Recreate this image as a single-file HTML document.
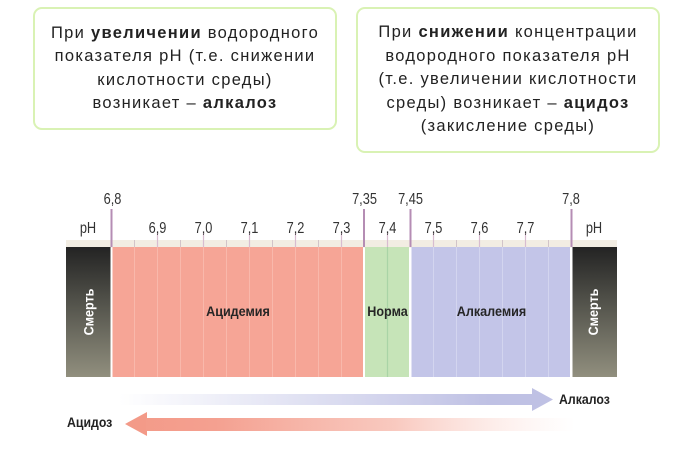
<!DOCTYPE html>
<html><head><meta charset="utf-8">
<style>
html,body{margin:0;padding:0;background:#fff;}
body{width:700px;height:449px;position:relative;overflow:hidden;font-family:"Liberation Sans",Arial,sans-serif;}
.box{position:absolute;border:2px solid #d9f2b4;border-radius:9px;box-sizing:border-box;display:flex;align-items:center;justify-content:center;text-align:center;color:#222;font-size:16.5px;letter-spacing:1.3px;line-height:23.5px;}
.box b{font-weight:bold;}
svg{position:absolute;left:0;top:0;}
</style></head><body>
<div class="box" style="left:33px;top:7px;width:304px;height:123px;"><div>При <b>увеличении</b> водородного<br>показателя pH (т.е. снижении<br>кислотности среды)<br>возникает – <b>алкалоз</b></div></div>
<div class="box" style="left:356px;top:7px;width:304px;height:146px;"><div>При <b>снижении</b> концентрации<br>водородного показателя pH<br>(т.е. увеличении кислотности<br>среды) возникает – <b>ацидоз</b><br>(закисление среды)</div></div>
<svg width="700" height="449" viewBox="0 0 700 449" xmlns="http://www.w3.org/2000/svg" font-family="Liberation Sans, Arial, sans-serif">
<defs>
<linearGradient id="death" x1="0" y1="0" x2="0" y2="1">
<stop offset="0" stop-color="#232323"/><stop offset="0.45" stop-color="#55554d"/><stop offset="1" stop-color="#918f7e"/>
</linearGradient>
<linearGradient id="blueA" x1="119" y1="0" x2="553" y2="0" gradientUnits="userSpaceOnUse">
<stop offset="0" stop-color="#c2c4e6" stop-opacity="0"/><stop offset="0.5" stop-color="#c2c4e6" stop-opacity="0.6"/><stop offset="0.85" stop-color="#bfc1e4" stop-opacity="1"/><stop offset="1" stop-color="#bfc1e4"/>
</linearGradient>
<linearGradient id="redA" x1="125" y1="0" x2="575" y2="0" gradientUnits="userSpaceOnUse">
<stop offset="0" stop-color="#f39a88"/><stop offset="0.2" stop-color="#f4a090"/><stop offset="0.6" stop-color="#f6b2a4" stop-opacity="0.7"/><stop offset="1" stop-color="#fbd7cf" stop-opacity="0"/>
</linearGradient>
</defs>
<rect x="66" y="240" width="551" height="7.5" fill="#f2ede3"/>
<rect x="66" y="247" width="44.5" height="130" fill="url(#death)"/>
<rect x="112.5" y="247" width="250.5" height="130" fill="#f6a596"/>
<rect x="365" y="247" width="44" height="130" fill="#c6e4b8"/>
<rect x="411.5" y="247" width="158.5" height="130" fill="#c3c5e8"/>
<rect x="572.5" y="247" width="44.5" height="130" fill="url(#death)"/>
<g stroke="#f9b8ab" stroke-width="1">
<line x1="134.5" y1="247" x2="134.5" y2="377"/><line x1="157.5" y1="247" x2="157.5" y2="377"/><line x1="180.5" y1="247" x2="180.5" y2="377"/><line x1="203.5" y1="247" x2="203.5" y2="377"/><line x1="226.5" y1="247" x2="226.5" y2="377"/><line x1="249.5" y1="247" x2="249.5" y2="377"/><line x1="272.5" y1="247" x2="272.5" y2="377"/><line x1="295.5" y1="247" x2="295.5" y2="377"/><line x1="318.5" y1="247" x2="318.5" y2="377"/><line x1="341.5" y1="247" x2="341.5" y2="377"/>
</g>
<line x1="387.5" y1="247" x2="387.5" y2="377" stroke="#a9d4a6" stroke-width="1.2"/>
<g stroke="#d3d5ef" stroke-width="1">
<line x1="433.5" y1="247" x2="433.5" y2="377"/><line x1="456.5" y1="247" x2="456.5" y2="377"/><line x1="479.5" y1="247" x2="479.5" y2="377"/><line x1="502.5" y1="247" x2="502.5" y2="377"/><line x1="525.5" y1="247" x2="525.5" y2="377"/><line x1="548.5" y1="247" x2="548.5" y2="377"/>
</g>
<g stroke="#d2c4c9" stroke-width="1">
<line x1="134.5" y1="240" x2="134.5" y2="247"/><line x1="180.5" y1="240" x2="180.5" y2="247"/><line x1="226.5" y1="240" x2="226.5" y2="247"/><line x1="272.5" y1="240" x2="272.5" y2="247"/><line x1="318.5" y1="240" x2="318.5" y2="247"/><line x1="456.5" y1="240" x2="456.5" y2="247"/><line x1="502.5" y1="240" x2="502.5" y2="247"/><line x1="548.5" y1="240" x2="548.5" y2="247"/>
</g>
<g stroke="#d8bcd0" stroke-width="1.2">
<line x1="157.5" y1="233" x2="157.5" y2="247"/><line x1="203.5" y1="233" x2="203.5" y2="247"/><line x1="249.5" y1="233" x2="249.5" y2="247"/><line x1="295.5" y1="233" x2="295.5" y2="247"/><line x1="341.5" y1="233" x2="341.5" y2="247"/><line x1="387.5" y1="233" x2="387.5" y2="247"/><line x1="433.5" y1="233" x2="433.5" y2="247"/><line x1="479.5" y1="233" x2="479.5" y2="247"/><line x1="525.5" y1="233" x2="525.5" y2="247"/>
</g>
<g stroke="#b58db4" stroke-width="2">
<line x1="111.5" y1="209" x2="111.5" y2="247"/><line x1="364" y1="209" x2="364" y2="247"/><line x1="410.5" y1="209" x2="410.5" y2="247"/><line x1="571.5" y1="209" x2="571.5" y2="247"/>
</g>
<g fill="#333" font-size="16" text-anchor="middle">
<text transform="translate(112.5 204) scale(0.8 1)">6,8</text>
<text transform="translate(364.5 204) scale(0.8 1)">7,35</text>
<text transform="translate(410.5 204) scale(0.8 1)">7,45</text>
<text transform="translate(571 204) scale(0.8 1)">7,8</text>
<text transform="translate(88 233) scale(0.8 1)">pH</text>
<text transform="translate(594 233) scale(0.8 1)">pH</text>
<text transform="translate(157.5 233) scale(0.8 1)">6,9</text>
<text transform="translate(203.5 233) scale(0.8 1)">7,0</text>
<text transform="translate(249.5 233) scale(0.8 1)">7,1</text>
<text transform="translate(295.5 233) scale(0.8 1)">7,2</text>
<text transform="translate(341.5 233) scale(0.8 1)">7,3</text>
<text transform="translate(387.5 233) scale(0.8 1)">7,4</text>
<text transform="translate(433.5 233) scale(0.8 1)">7,5</text>
<text transform="translate(479.5 233) scale(0.8 1)">7,6</text>
<text transform="translate(525.5 233) scale(0.8 1)">7,7</text>
</g>
<g fill="#262626" font-size="14" font-weight="bold" text-anchor="middle">
<text transform="translate(238 316) scale(0.9 1)">Ацидемия</text>
<text transform="translate(387.5 316) scale(0.9 1)">Норма</text>
<text transform="translate(491.5 316) scale(0.9 1)">Алкалемия</text>
</g>
<g fill="#fff" font-size="14" font-weight="bold" text-anchor="middle">
<text transform="translate(93.5 312) rotate(-90) scale(0.9 1)">Смерть</text>
<text transform="translate(598 312) rotate(-90) scale(0.9 1)">Смерть</text>
</g>
<rect x="119" y="394" width="414" height="11" fill="url(#blueA)"/>
<polygon points="532,388 553,399.5 532,411" fill="#bfc1e4"/>
<polygon points="147,412 125,424 147,436" fill="#f39a88"/>
<rect x="146" y="418" width="428" height="13" fill="url(#redA)"/>
<g fill="#222" font-size="14" font-weight="bold">
<text transform="translate(559 404) scale(0.88 1)">Алкалоз</text>
<text transform="translate(67 427) scale(0.88 1)">Ацидоз</text>
</g>
</svg>
</body></html>
